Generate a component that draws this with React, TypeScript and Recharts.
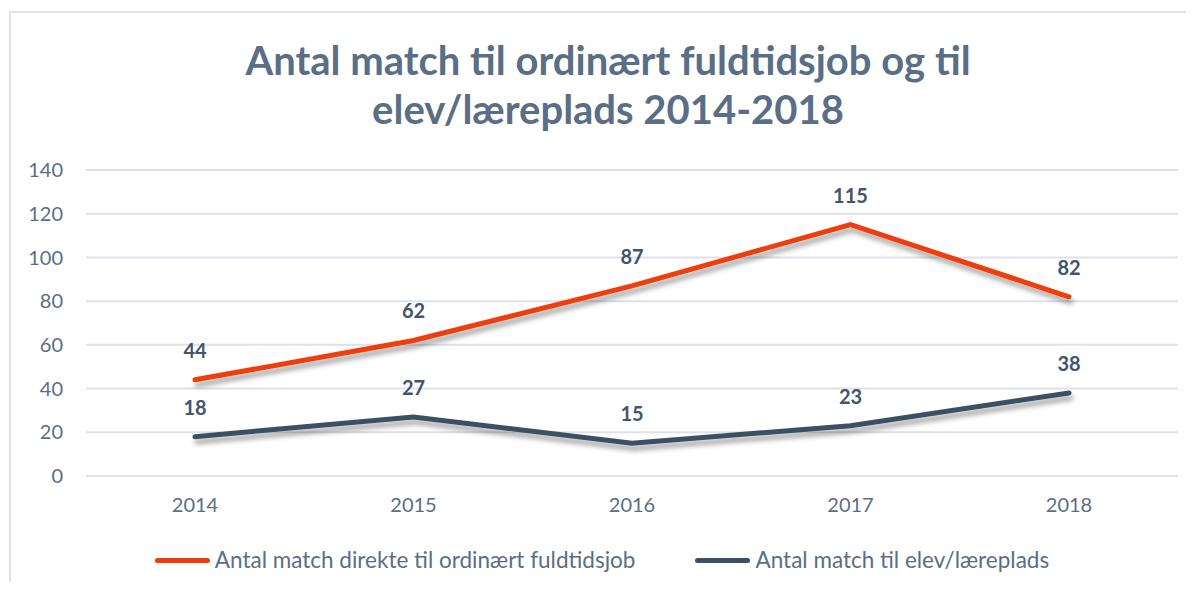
import { CartesianGrid, LabelList, Legend, Line, LineChart, XAxis, YAxis } from "recharts";

const years = ["2014", "2015", "2016", "2017", "2018"];
const fuldtidsjob = [44, 62, 87, 115, 82];
const elevplads = [18, 27, 15, 23, 38];
const yTicks = [0, 20, 40, 60, 80, 100, 120, 140];

const NAME_JOB = "Antal match direkte til ordinært fuldtidsjob";
const NAME_ELEV = "Antal match til elev/læreplads";

const ORANGE = "#F03C0A";
const DARK = "#3B4F65";
const TEXT = "#5B6E84";
const FONT = "Lato, 'Open Sans', sans-serif";

const data = years.map((y, i) => ({
	year: y,
	job: fuldtidsjob[i],
	elev: elevplads[i],
}));

function LegendContent() {
	const items = [
		{ name: NAME_JOB, color: ORANGE },
		{ name: NAME_ELEV, color: DARK },
	];
	return (
		<div style={{ display: "flex", justifyContent: "center", gap: 60, fontFamily: FONT, fontSize: 22.5, color: TEXT, lineHeight: "26px" }}>
			{items.map((it) => (
				<div key={it.name} style={{ display: "flex", alignItems: "center" }}>
					<span
						style={{
							display: "inline-block",
							width: 55,
							height: 5,
							borderRadius: 3,
							background: it.color,
							marginRight: 5,
						}}
					/>
					<span>{it.name}</span>
				</div>
			))}
		</div>
	);
}

export default function App() {
	return (
		<div style={{ position: "relative", width: 1194, height: 590, margin: -8, background: "#fff", overflow: "hidden" }}>
			<div
				style={{
					position: "absolute",
					left: 9,
					top: 11,
					width: 1300,
					height: 700,
					border: "2px solid #DCE2E8",
				}}
			/>
			<div
				style={{
					position: "absolute",
					left: 0,
					top: 36,
					width: 1216,
					textAlign: "center",
					fontFamily: FONT,
					fontWeight: 700,
					fontSize: 40,
					lineHeight: "49px",
					color: "#5A6E85",
				}}
			>
				Antal match til ordinært fuldtidsjob og til
				<br />
				elev/læreplads 2014-2018
			</div>
			<div style={{ position: "absolute", left: 0, top: 0 }}>
				<LineChart width={1194} height={590} data={data} margin={{ top: 170, right: 16, bottom: 48, left: 26 }}>
					<defs>
						<filter id="lineShadow" x="-10%" y="-50%" width="120%" height="200%">
							<feDropShadow dx="2" dy="5" stdDeviation="2.5" floodColor="#000" floodOpacity="0.35" />
						</filter>
					</defs>
					<CartesianGrid vertical={false} stroke="#DDE2E7" strokeWidth={2} />
					<XAxis
						dataKey="year"
						axisLine={false}
						tickLine={false}
						tickSize={0}
						tickMargin={22}
						height={40}
						padding={{ left: 109, right: 109 }}
						tick={{ fontSize: 20, fill: TEXT, fontFamily: FONT }}
					/>
					<YAxis
						domain={[0, 140]}
						ticks={yTicks}
						axisLine={false}
						tickLine={false}
						tickSize={0}
						tickMargin={23}
						width={60}
						tick={{ fontSize: 20, fill: TEXT, fontFamily: FONT }}
					/>
					<Legend verticalAlign="bottom" wrapperStyle={{ bottom: 17 }} content={() => <LegendContent />} />
					<Line
						dataKey="job"
						name={NAME_JOB}
						stroke={ORANGE}
						strokeWidth={5}
						strokeLinecap="round"
						dot={false}
						activeDot={false}
						filter="url(#lineShadow)"
						isAnimationActive={false}
					>
						<LabelList dataKey="job" position="top" offset={22} fill="#44546A" fontSize={20} fontWeight={700} fontFamily={FONT} />
					</Line>
					<Line
						dataKey="elev"
						name={NAME_ELEV}
						stroke={DARK}
						strokeWidth={5}
						strokeLinecap="round"
						dot={false}
						activeDot={false}
						filter="url(#lineShadow)"
						isAnimationActive={false}
					>
						<LabelList dataKey="elev" position="top" offset={22} fill="#44546A" fontSize={20} fontWeight={700} fontFamily={FONT} />
					</Line>
				</LineChart>
			</div>
		</div>
	);
}
